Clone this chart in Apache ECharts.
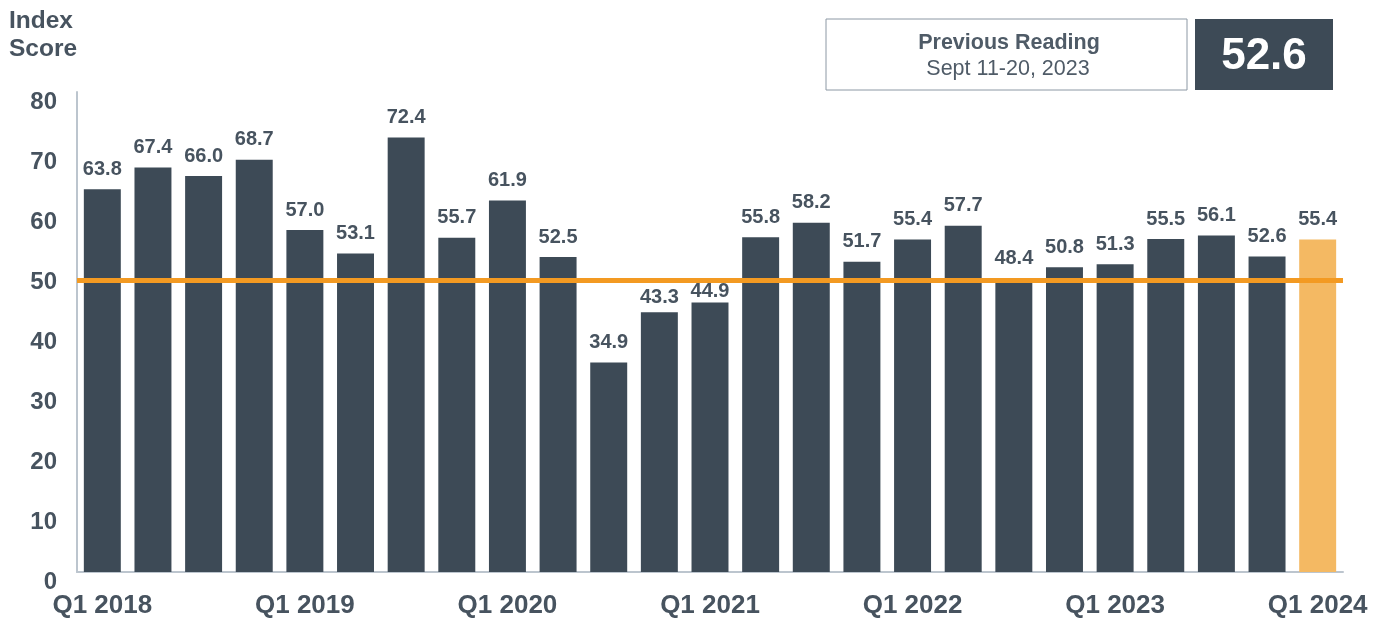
<!DOCTYPE html>
<html>
<head>
<meta charset="utf-8">
<script src="https://cdn.jsdelivr.net/npm/echarts@6/dist/echarts.min.js"></script>
<style>
  html, body { margin: 0; padding: 0; background: #fff; }
  #chart { width: 1375px; height: 621px; }
</style>
</head>
<body>
<div id="chart"></div>
<script>
// quarterly index scores, Q1 2018 .. Q1 2024
const quarters = [
  "Q1 2018", "Q2 2018", "Q3 2018", "Q4 2018",
  "Q1 2019", "Q2 2019", "Q3 2019", "Q4 2019",
  "Q1 2020", "Q2 2020", "Q3 2020", "Q4 2020",
  "Q1 2021", "Q2 2021", "Q3 2021", "Q4 2021",
  "Q1 2022", "Q2 2022", "Q3 2022", "Q4 2022",
  "Q1 2023", "Q2 2023", "Q3 2023", "Q4 2023",
  "Q1 2024",
];
const scores = [
  63.8, 67.4, 66.0, 68.7,
  57.0, 53.1, 72.4, 55.7,
  61.9, 52.5, 34.9, 43.3,
  44.9, 55.8, 58.2, 51.7,
  55.4, 57.7, 48.4, 50.8,
  51.3, 55.5, 56.1, 52.6,
  55.4,
];
const threshold = 50;
const previousReading = "52.6";
const previousPeriod = "Sept 11-20, 2023";

const dark = "#3d4a56";
const textColor = "#47535f";
const font = "Liberation Sans, Arial, sans-serif";
const latest = scores.length - 1;

// labels near the 50 line were nudged in the original
const labelGap = { 11: 5, 12: 1.5, 18: 13 };

const chart = echarts.init(document.getElementById("chart"));
chart.setOption({
  animation: false,
  title: {
    text: "Index\nScore",
    left: 4,
    top: 2,
    textStyle: {
      fontFamily: font,
      fontSize: 24.5,
      fontWeight: "bold",
      lineHeight: 28,
      color: textColor,
    },
  },
  grid: { left: 77, right: 32, top: 92, bottom: 49 },
  xAxis: {
    type: "category",
    data: quarters,
    axisTick: { show: false },
    axisLine: { show: true, lineStyle: { color: "#bcc5ce", width: 2 } },
    axisLabel: {
      interval: 3,
      margin: 21,
      fontFamily: font,
      fontSize: 26,
      fontWeight: "bold",
      color: textColor,
    },
  },
  yAxis: [
    {
      type: "value",
      min: 0,
      max: 80,
      interval: 10,
      splitLine: { show: false },
      axisTick: { show: false },
      axisLine: { show: true, lineStyle: { color: "#bcc5ce", width: 2 } },
      axisLabel: {
        margin: 20,
        formatter: "{v|{value}}",
        rich: {
          v: {
            padding: [20, 0, 0, 0], // labels sit a little below the bar scale
            fontFamily: font,
            fontSize: 24,
            fontWeight: "bold",
            color: textColor,
          },
        },
      },
    },
    {
      // hidden scale matching the label positions, used for the 50 line
      type: "value",
      show: false,
      min: 4 / 3,
      max: 81 + 1 / 3,
      splitLine: { show: false },
    },
  ],
  series: [
    {
      type: "bar",
      barCategoryGap: "27%",
      data: scores.map((v, i) => ({
        value: v,
        itemStyle: { color: i === latest ? "#f4b963" : dark },
        label: { distance: labelGap[i] != null ? labelGap[i] : 10 },
      })),
      label: {
        show: true,
        position: "top",
        formatter: (p) => p.value.toFixed(1),
        fontFamily: font,
        fontSize: 20,
        fontWeight: "bold",
        color: textColor,
      },
    },
    {
      type: "line",
      yAxisIndex: 1,
      data: [],
      z: 5,
      markLine: {
        silent: true,
        symbol: "none",
        label: { show: false },
        lineStyle: { color: "#f39a22", width: 5, type: "solid" },
        data: [{ yAxis: threshold }],
      },
    },
  ],
  graphic: [
    {
      type: "rect",
      shape: { x: 826, y: 19, width: 361, height: 71 },
      style: { fill: "#fff", stroke: "#8c98a4", lineWidth: 1 },
    },
    {
      type: "text",
      x: 1009,
      y: 43,
      style: {
        text: "Previous Reading",
        align: "center",
        verticalAlign: "middle",
        font: "bold 21.5px 'Liberation Sans', Arial, sans-serif",
        fill: "#4f5b67",
      },
    },
    {
      type: "text",
      x: 1008,
      y: 69,
      style: {
        text: previousPeriod,
        align: "center",
        verticalAlign: "middle",
        font: "21.5px 'Liberation Sans', Arial, sans-serif",
        fill: "#4f5b67",
      },
    },
    {
      type: "rect",
      shape: { x: 1195, y: 19, width: 138, height: 71 },
      style: { fill: dark },
    },
    {
      type: "text",
      x: 1264,
      y: 57,
      style: {
        text: previousReading,
        align: "center",
        verticalAlign: "middle",
        font: "bold 44px 'Liberation Sans', Arial, sans-serif",
        fill: "#fff",
      },
    },
  ],
});
</script>
</body>
</html>
